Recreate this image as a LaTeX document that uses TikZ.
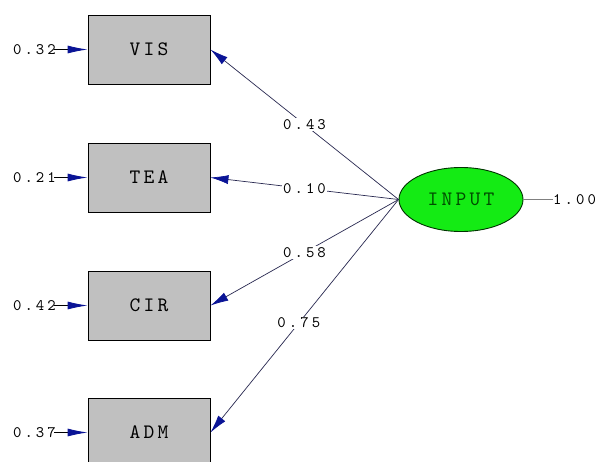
\documentclass[tikz,border=0pt]{standalone}
\usepackage{fontspec}
\usetikzlibrary{arrows.meta,shapes.geometric}
\newfontfamily\smallmonofam{lmmono10-regular}[Extension=.otf, LetterSpace=19]
\newfontfamily\bigmonofam{lmmono10-regular}[Extension=.otf, LetterSpace=16]
\newcommand\smallmono{\smallmonofam\fontsize{16}{18}\selectfont}
\newcommand\bigmono{\bigmonofam\fontsize{20.5}{22}\selectfont}
\definecolor{boxgray}{RGB}{192,192,192}
\definecolor{latgreen}{RGB}{20,235,20}
\definecolor{tipblue}{RGB}{10,20,150}
\definecolor{pathline}{RGB}{40,40,80}
\tikzset{
  obsbox/.style={draw=black, line width=0.9pt, fill=boxgray, minimum width=122pt, minimum height=69pt, inner sep=0pt, font=\bigmono},
  latent/.style={ellipse, draw=black!80!green, line width=0.9pt, fill=latgreen, minimum width=124pt, minimum height=64pt, inner sep=0pt, font=\bigmono, text=black!70!green},
  numlab/.style={inner sep=0pt, font=\smallmono},
  pathlab/.style={fill=white, inner sep=1pt, font=\smallmono},
  patharrow/.style={draw=pathline, line width=0.7pt, -{Latex[length=18pt,width=9pt,color=tipblue]}},
  errarrow/.style={draw=black, line width=0.9pt, -{Latex[length=20pt,width=8pt,color=tipblue]}},
  freeline/.style={draw=gray, line width=0.6pt}
}
\begin{document}
\begin{tikzpicture}[x=1pt,y=-1pt]
\clip (0,0) rectangle (595,461);
\fill[white] (0,0) rectangle (595,461);
\node[obsbox] (vis) at (149,49.5) {VIS};
\node[obsbox] (tea) at (149,177.5) {TEA};
\node[obsbox] (cir) at (149,305.5) {CIR};
\node[obsbox] (adm) at (149,432.5) {ADM};
\node[latent] (input) at (461,199.5) {INPUT};
\node[numlab, anchor=east] (evis) at (56,49.5) {0.32};
\node[numlab, anchor=east] (etea) at (56,177.5) {0.21};
\node[numlab, anchor=east] (ecir) at (56,305.5) {0.42};
\node[numlab, anchor=east] (eadm) at (56,432.5) {0.37};
\node[numlab, anchor=west] (var) at (553,199.5) {1.00};
\draw[errarrow] ([xshift=-2pt]evis.east) -- (vis.west);
\draw[errarrow] ([xshift=-2pt]etea.east) -- (tea.west);
\draw[errarrow] ([xshift=-2pt]ecir.east) -- (cir.west);
\draw[errarrow] ([xshift=-2pt]eadm.east) -- (adm.west);
\draw[freeline] (input.east) -- (var.west);
\draw[patharrow] (input.west) -- (vis.east) node[pathlab, pos=0.5] (lvis) {0.43};
\draw[patharrow] (input.west) -- (tea.east) node[pathlab, pos=0.5] (ltea) {0.10};
\draw[patharrow] (input.west) -- (cir.east) node[pathlab, pos=0.5] (lcir) {0.58};
\draw[patharrow] (input.west) -- (adm.east) node[pathlab, pos=0.53] (ladm) {0.75};
\end{tikzpicture}
\end{document}
